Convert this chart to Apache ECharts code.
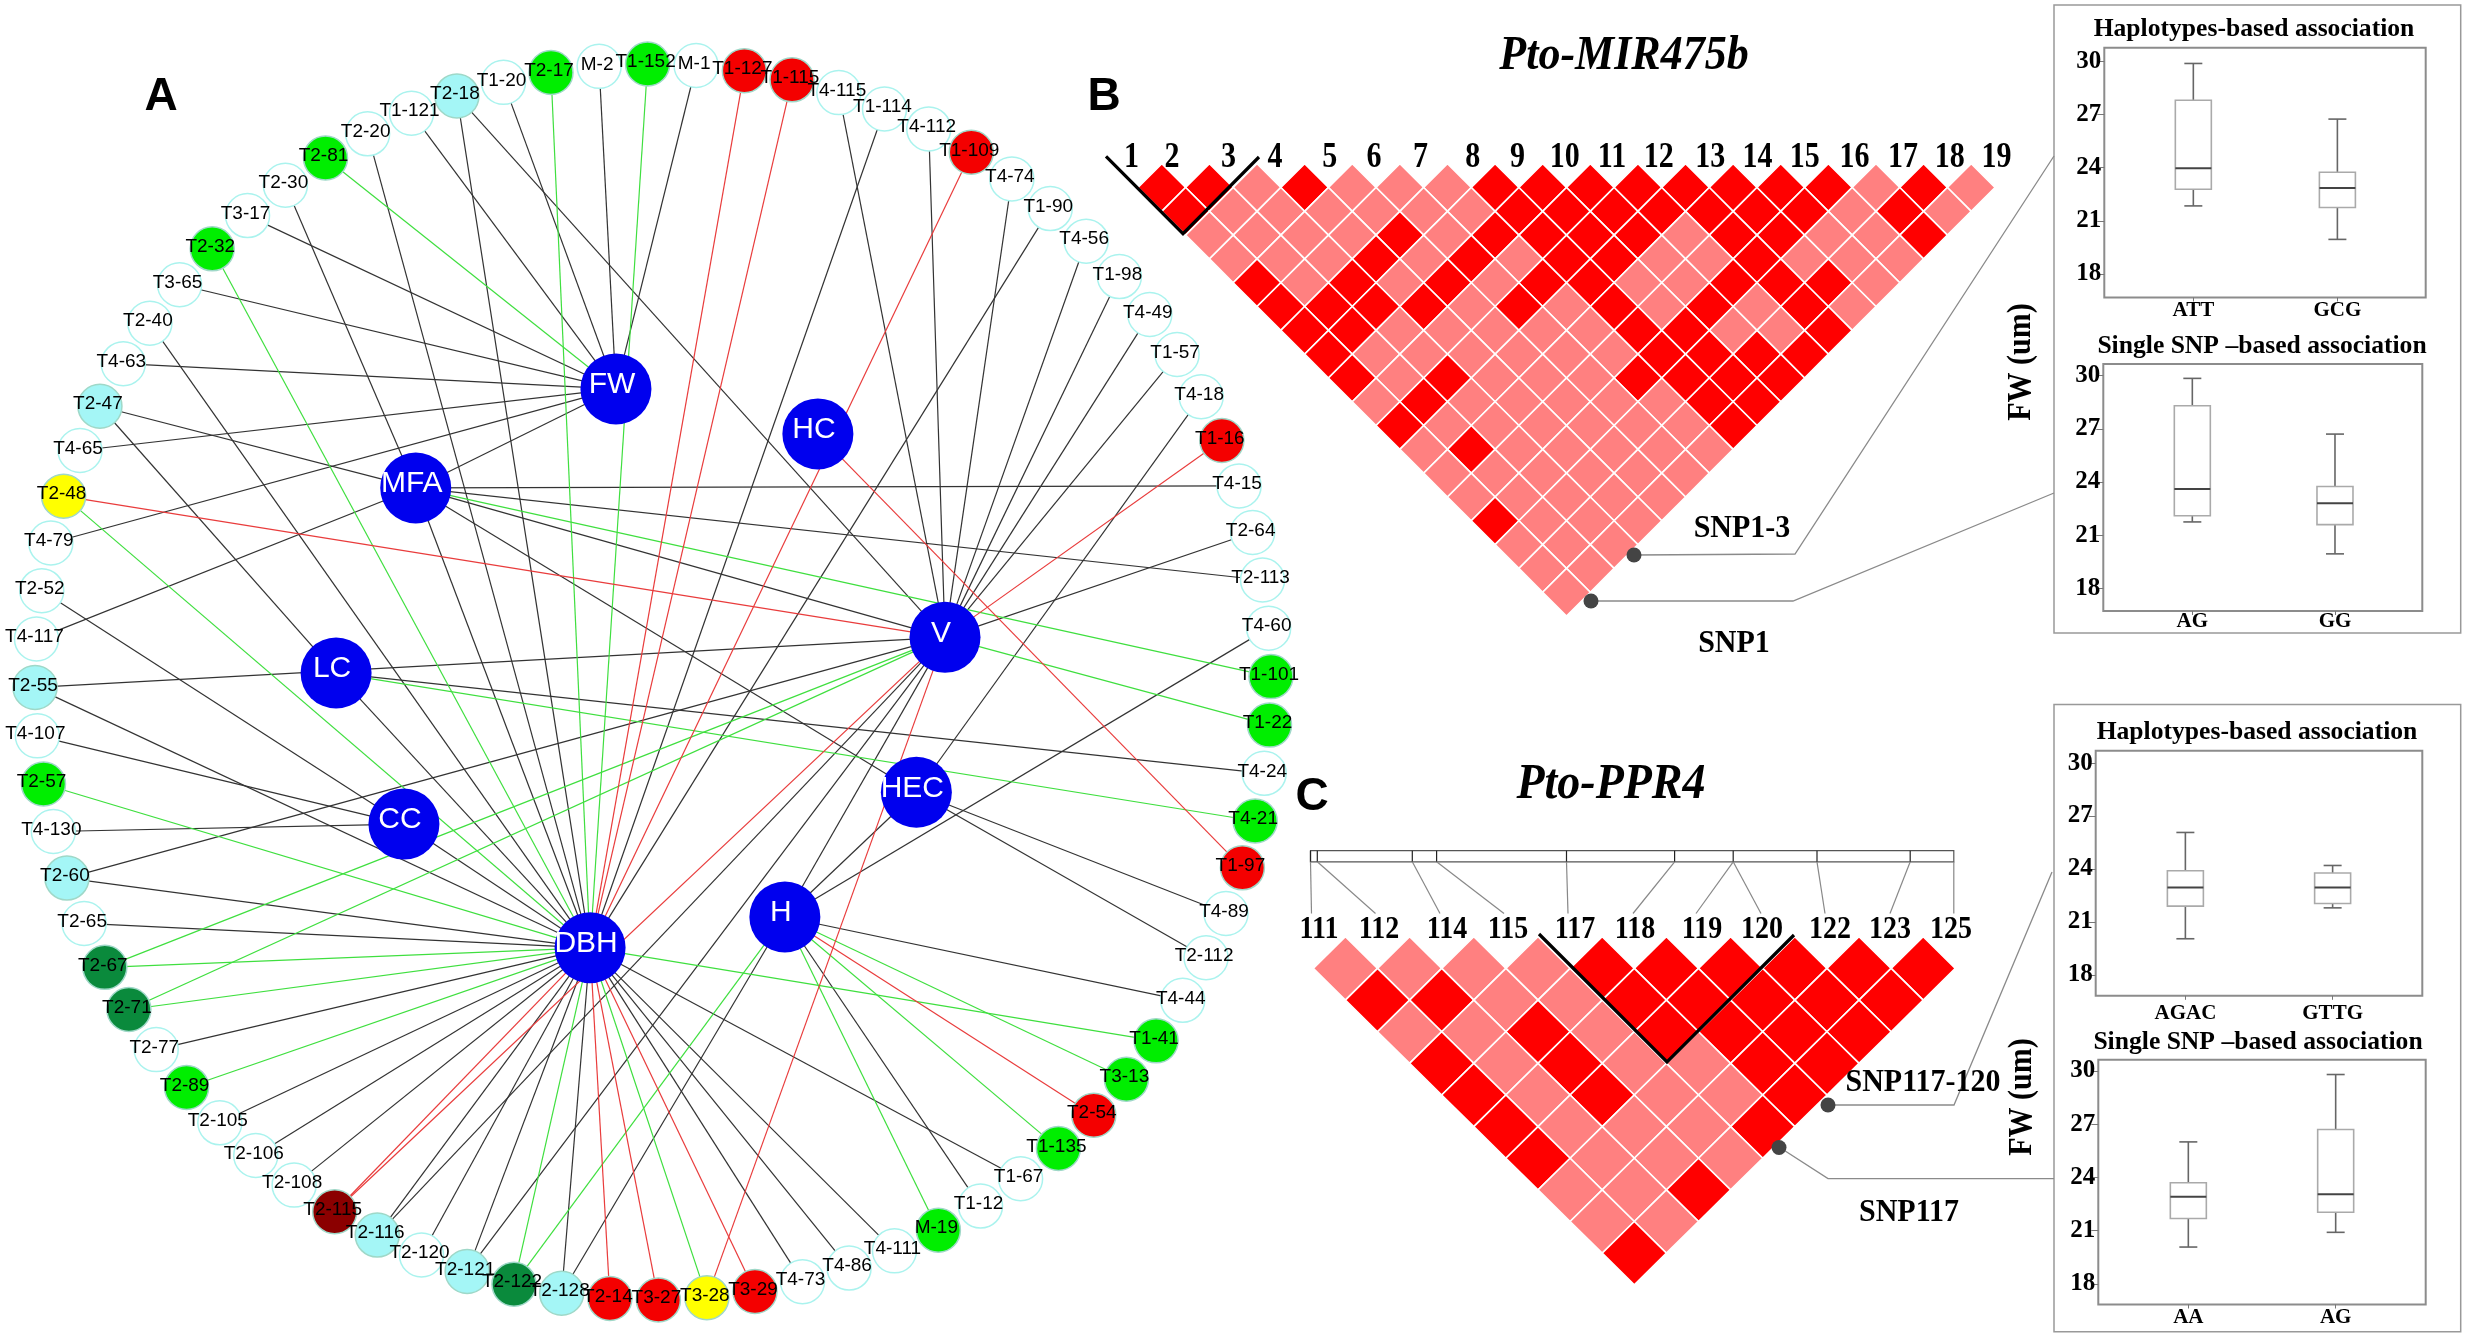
<!DOCTYPE html>
<html>
<head>
<meta charset="utf-8">
<style>html,body{margin:0;padding:0;background:#fff}#c{width:2467px;height:1337px}</style>
<script src="https://cdn.jsdelivr.net/npm/echarts@6/dist/echarts.min.js"></script>
</head>
<body>
<div id="c"></div>
<script>
// ---------- network: ring nodes in clockwise order ----------
const ringNodes = ['M-2','T1-152','M-1','T1-127','T1-115','T4-115','T1-114','T4-112','T1-109','T4-74',
 'T1-90','T4-56','T1-98','T4-49','T1-57','T4-18','T1-16','T4-15','T2-64','T2-113',
 'T4-60','T1-101','T1-22','T4-24','T4-21','T1-97','T4-89','T2-112','T4-44','T1-41',
 'T3-13','T2-54','T1-135','T1-67','T1-12','M-19','T4-111','T4-86','T4-73','T3-29',
 'T3-28','T3-27','T2-14','T2-128','T2-122','T2-121','T2-120','T2-116','T2-115','T2-108',
 'T2-106','T2-105','T2-89','T2-77','T2-71','T2-67','T2-65','T2-60','T4-130','T2-57',
 'T4-107','T2-55','T4-117','T2-52','T4-79','T2-48','T4-65','T2-47','T4-63','T2-40',
 'T3-65','T2-32','T3-17','T2-30','T2-81','T2-20','T1-121','T2-18','T1-20','T2-17'];
const cyanNodes = ['T2-18','T2-47','T2-55','T2-60','T2-116','T2-121','T2-128'];
const greenNodes = ['T1-152','T1-101','T1-22','T4-21','T1-41','T3-13','T1-135','M-19','T2-89','T2-57','T2-32','T2-81','T2-17'];
const darkGreenNodes = ['T2-67','T2-71','T2-122'];
const redNodes = ['T1-127','T1-115','T1-109','T1-16','T1-97','T2-54','T3-29','T3-27','T2-14'];
const darkRedNodes = ['T2-115'];
const yellowNodes = ['T3-28','T2-48'];

const hubNames  = ['FW','MFA','LC','CC','DBH','HC','V','HEC','H'];
const hubRadius = [0.478,0.496,0.513,0.464,0.442,0.482,0.478,0.462,0.436];
const hubAngle  = [79.51,69.84,61.47,54.51,44.07,8.58,19.18,26.16,34.6];

const blackLinks = [['T4-79','FW'],['T2-52','CC'],['CC','DBH'],['T4-117','MFA'],['T2-55','V'],['T2-55','DBH'],
 ['T4-107','CC'],['T4-130','CC'],['T2-60','V'],['T2-60','DBH'],['T2-65','DBH'],['T2-77','DBH'],['T2-105','DBH'],
 ['T2-106','DBH'],['T2-108','DBH'],['T2-116','DBH'],['T2-116','V'],['T2-120','DBH'],['T2-121','DBH'],['T2-121','V'],
 ['T2-128','DBH'],['T2-128','H'],['T4-73','DBH'],['T4-86','DBH'],['T4-111','DBH'],['T1-12','H'],['T1-67','DBH'],
 ['T4-44','H'],['T2-112','HEC'],['T4-89','HEC'],['T4-24','LC'],['T4-60','H'],['T2-113','MFA'],['T2-64','V'],
 ['T4-15','MFA'],['T4-18','HEC'],['T1-57','V'],['T4-49','V'],['T1-98','V'],['T4-56','V'],['T4-74','V'],['T1-90','DBH'],
 ['T4-112','V'],['T1-114','DBH'],['T4-115','V'],['M-1','FW'],['M-2','FW'],['T1-20','FW'],['T2-18','DBH'],['T2-18','V'],
 ['T1-121','FW'],['T2-20','DBH'],['T2-30','MFA'],['T3-17','FW'],['T3-65','FW'],['T2-40','DBH'],['T4-63','FW'],
 ['T2-47','MFA'],['T2-47','LC'],['T4-65','FW'],['MFA','FW'],['MFA','DBH'],['MFA','V'],['MFA','HEC'],['LC','DBH'],
 ['HEC','H'],['H','V']];
const greenLinks = [['T2-48','DBH'],['T2-57','DBH'],['T2-67','DBH'],['T2-67','V'],['T2-71','DBH'],['T2-71','V'],
 ['T2-89','DBH'],['T2-122','DBH'],['T2-122','H'],['T3-28','DBH'],['M-19','H'],['T1-135','H'],['T3-13','H'],
 ['T1-41','DBH'],['T4-21','LC'],['T1-22','V'],['T1-101','MFA'],['T1-152','DBH'],['T2-17','DBH'],['T2-81','FW'],
 ['T2-32','DBH']];
const redLinks = [['T2-48','V'],['T2-115','DBH'],['T2-115','V'],['T2-14','DBH'],['T3-27','DBH'],['T3-28','V'],
 ['T3-29','DBH'],['T2-54','H'],['T1-97','HC'],['T1-16','V'],['T1-109','DBH'],['T1-115','DBH'],['T1-127','DBH']];

// ---------- LD matrices (1 = strong, 0 = weak), one string per row ----------
const ldSnp475 = ['110100011111111010','10000001111111010','0000101111011001','000101011001000','10101011001110',
 '1111010101010','110000011001','10000001111','1010001111','010000011','10000001','0100000','000000','00000','1000','000','00','0'];
const ldPpr4 = ['0000111111','110011111','00101111','1010011','101001','10001','1000','001','00','1'];
const snpLabels475 = ['1','2','3','4','5','6','7','8','9','10','11','12','13','14','15','16','17','18','19'];
const snpLabelsPpr = ['111','112','114','115','117','118','119','120','122','123','125'];

// ---------- box statistics: low, Q1, median, Q3, high ----------
const ticksFW = [18,21,24,27,30];
const catsB1 = ['ATT','GCG'];
const statsB1 = [[21.84,22.78,23.97,27.8,29.88],[19.95,21.75,22.85,23.74,26.74]];
const catsB2 = ['AG','GG'];
const statsB2 = [[21.75,22.1,23.6,28.3,29.84],[19.95,21.6,22.8,23.75,26.7]];
const catsC1 = ['AGAC','GTTG'];
const statsC1 = [[20.05,21.9,22.96,23.9,26.07],[21.8,22.05,22.96,23.77,24.2]];
const catsC2 = ['AA','AG'];
const statsC2 = [[20.07,21.68,22.9,23.7,26.0],[20.9,22.03,23.05,26.7,29.8]];

// ---------- styles ----------
const SANS = '"Liberation Sans", Arial, sans-serif';
const SERIF = '"Liberation Serif", "Times New Roman", serif';
const colorOf = n => cyanNodes.includes(n) ? '#a4f6f6' : greenNodes.includes(n) ? '#00ee00' :
  darkGreenNodes.includes(n) ? '#0a8a3c' : redNodes.includes(n) ? '#f40000' :
  darkRedNodes.includes(n) ? '#8b0000' : yellowNodes.includes(n) ? '#ffff00' : '#ffffff';

const nodes = ringNodes.map((n,i)=>({name:n,value:[1,i],symbolSize:44,
  itemStyle:{color:colorOf(n),borderColor:colorOf(n)==='#ffffff'?'#aaf3ee':'#9fd8c8',borderWidth:1.5},
  label:{show:true,position:'inside',offset:[-2,-2],formatter:'{b}',color:'#000',fontFamily:SANS,fontSize:19}}))
 .concat(hubNames.map((n,i)=>({name:n,value:[hubRadius[i],hubAngle[i]],symbolSize:71,
  itemStyle:{color:'#0000ee'},
  label:{show:true,position:'inside',offset:[-4,-4],formatter:'{b}',color:'#fff',fontFamily:SANS,fontSize:30}})));
const mkLinks = (arr,col)=>arr.map(l=>({source:l[0],target:l[1],lineStyle:{color:col,width:1.2,opacity:1,curveness:0}}));
const links = mkLinks(blackLinks,'#333333').concat(mkLinks(greenLinks,'#3fdf3f'),mkLinks(redLinks,'#e93c3c'));

const cellData = rows => { const out=[]; rows.forEach((s,r)=>{ for(let c=0;c<s.length;c++) out.push([c+r/2,r,+s[c]]);}); return out; };
const diamond = (params,api)=>{
  const x=api.value(0), y=api.value(1);
  const pts=[[x,y-1],[x+0.5,y],[x,y+1],[x-0.5,y]].map(p=>api.coord(p));
  return {type:'polygon',shape:{points:pts},style:{fill:api.value(2)?'#ff0000':'#ff8080',stroke:'#fff',lineWidth:1.6}};
};
const boxItem = (params,api)=>{
  const x=api.value(0);
  const P=d=>api.coord([x,api.value(d)]);
  const lo=P(1),q1=P(2),me=P(3),q3=P(4),hi=P(5);
  const cx=lo[0], hb=18, hc=9;
  const line=(a,b,c,d,col,w)=>({type:'line',shape:{x1:a,y1:b,x2:c,y2:d},style:{stroke:col,lineWidth:w}});
  return {type:'group',children:[
    line(cx,hi[1],cx,q3[1],'#666',1.6),line(cx,lo[1],cx,q1[1],'#666',1.6),
    line(cx-hc,hi[1],cx+hc,hi[1],'#666',1.6),line(cx-hc,lo[1],cx+hc,lo[1],'#666',1.6),
    {type:'rect',shape:{x:cx-hb,y:q3[1],width:2*hb,height:q1[1]-q3[1]},style:{fill:'#fff',stroke:'#aaa',lineWidth:1.6}},
    line(cx-hb,me[1],cx+hb,me[1],'#444',2)
  ]};
};

const heatGrids = [
 {left:1138,top:163.7,width:857,height:452.3},
 {left:1313.3,top:936.8,width:642,height:348}];
const heatX = [[-0.5,17.5],[-0.5,9.5]], heatY=[[-1,18],[-1,10]];
const boxPanels = [
 {l:2104.3,r:2425.7,t:47.7,b:297.5,xr:[0.382,2.613],yr:[16.67,30.77],cats:catsB1,st:statsB1,m:3},
 {l:2103.3,r:2422.3,t:364,b:611,xr:[0.376,2.612],yr:[16.73,30.65],cats:catsB2,st:statsB2,m:0},
 {l:2095.7,r:2422.3,t:750.7,b:995.8,xr:[0.391,2.609],yr:[16.82,30.70],cats:catsC1,st:statsC1,m:7},
 {l:2098.3,r:2425.7,t:1059.8,b:1304.5,xr:[0.389,2.611],yr:[16.83,30.63],cats:catsC2,st:statsC2,m:3}];

const grid=[], xAxis=[], yAxis=[], series=[];
heatGrids.forEach((g,i)=>{
  grid.push(Object.assign({show:false},g));
  xAxis.push({type:'value',gridIndex:i,min:heatX[i][0],max:heatX[i][1],show:false});
  yAxis.push({type:'value',gridIndex:i,min:heatY[i][0],max:heatY[i][1],inverse:true,show:false});
  series.push({type:'custom',xAxisIndex:i,yAxisIndex:i,silent:true,clip:false,animation:false,
    data:cellData(i===0?ldSnp475:ldPpr4),encode:{x:0,y:1},renderItem:diamond});
});
boxPanels.forEach((p,k)=>{
  const i=k+2;
  grid.push({show:true,borderColor:'#8c8c8c',borderWidth:2,backgroundColor:'#fff',left:p.l,top:p.t,width:p.r-p.l,height:p.b-p.t});
  xAxis.push({type:'value',gridIndex:i,min:p.xr[0],max:p.xr[1],splitLine:{show:false},axisLine:{show:false},
    axisTick:{show:true,length:4,lineStyle:{color:'#777'},customValues:[1,2]},
    axisLabel:{customValues:[1,2],margin:p.m,color:'#000',fontFamily:SERIF,fontWeight:'bold',fontSize:21,formatter:v=>p.cats[Math.round(v)-1]}});
  yAxis.push({type:'value',gridIndex:i,min:p.yr[0],max:p.yr[1],splitLine:{show:false},axisLine:{show:false},
    axisTick:{show:true,length:7,lineStyle:{color:'#777'},customValues:ticksFW},
    axisLabel:{customValues:ticksFW,margin:3,color:'#000',fontFamily:SERIF,fontWeight:'bold',fontSize:25}});
  series.push({type:'custom',xAxisIndex:i,yAxisIndex:i,silent:true,animation:false,
    data:p.st.map((s,j)=>[j+1].concat(s)),encode:{x:0,y:[1,2,3,4,5]},renderItem:boxItem});
});
series.unshift({type:'graph',coordinateSystem:'polar',polarIndex:0,layout:'none',silent:true,animation:false,
  data:nodes,links:links,edgeSymbol:['none','none'],z:2});

// ---------- annotation layer ----------
const T=(text,x,y,font,extra)=>Object.assign({type:'text',x:x,y:y,silent:true,z:20,
  style:{text:text,font:font,fill:'#000',align:'center',verticalAlign:'middle',textAlign:'center',textVerticalAlign:'middle'}},extra||{});
const PL=(pts,col,w)=>({type:'polyline',silent:true,z:15,shape:{points:pts},style:{stroke:col,lineWidth:w,fill:'none'}});
const DOT=(x,y)=>({type:'circle',silent:true,z:16,shape:{cx:x,cy:y,r:7.5},style:{fill:'#444'}});
const LINE=(a,b,c,d,col,w)=>PL([[a,b],[c,d]],col,w);
const boldSerif=s=>'bold '+s+'px '+SERIF;
const g=[];
const snpX475=[1131.5,1172,1228.5,1275,1329.7,1374,1420.6,1472.7,1517.6,1564.8,1612,1658.8,1710.3,1757.6,1804.8,1854.5,1903,1949.7,1996.4];
snpLabels475.forEach((s,i)=>g.push(T(s,snpX475[i],158,boldSerif(30),{scaleY:1.18})));
const snpXPpr=[1319,1379,1447,1508,1575,1635,1702,1762,1830,1890,1951];
snpLabelsPpr.forEach((s,i)=>g.push(T(s,snpXPpr[i],930,boldSerif(28),{scaleY:1.1})));
g.push(T('A',161,97,'bold 46px '+SANS),T('B',1104,97,'bold 46px '+SANS),T('C',1312,797,'bold 46px '+SANS));
g.push(T('Pto-MIR475b',1624,57,'italic bold 44px '+SERIF,{scaleY:1.1}),T('Pto-PPR4',1611,785,'italic bold 46px '+SERIF,{scaleY:1.1}));
g.push(T('SNP1-3',1742,529,boldSerif(30),{scaleY:1.08}),T('SNP1',1734,644,boldSerif(30),{scaleY:1.08}),
       T('SNP117-120',1923,1083,boldSerif(30),{scaleY:1.08}),T('SNP117',1909,1213,boldSerif(30),{scaleY:1.08}));
g.push(T('FW (um)',2021,362,boldSerif(30),{rotation:Math.PI/2,scaleY:1.15}),T('FW (um)',2022,1097,boldSerif(30),{rotation:Math.PI/2,scaleY:1.15}));
g.push(T('Haplotypes-based association',2254,29,boldSerif(25.6)),T('Single SNP \u2013based association',2262,346,boldSerif(25.6)),
       T('Haplotypes-based association',2257,732,boldSerif(25.6)),T('Single SNP \u2013based association',2258,1042,boldSerif(25.6)));
g.push({type:'rect',silent:true,z:1,shape:{x:2054,y:5,width:406.7,height:628},style:{fill:'none',stroke:'#999',lineWidth:1.5}});
g.push({type:'rect',silent:true,z:1,shape:{x:2054,y:704.5,width:406.7,height:627.2},style:{fill:'none',stroke:'#999',lineWidth:1.5}});
g.push(PL([[1106,156.4],[1183,233.7],[1259,157]],'#000',3.2),PL([[1539,934],[1667,1062],[1794,935]],'#000',3.2));
g.push(PL([[1634,555],[1795,554],[2054,156]],'#8a8a8a',1.3),PL([[1591,601],[1793,601],[2054,493]],'#8a8a8a',1.3));
g.push(PL([[1828,1105],[1954,1105],[2052,872]],'#8a8a8a',1.3),PL([[1779,1147],[1828,1178.6],[2054,1178.6]],'#8a8a8a',1.3));
g.push(DOT(1634,555),DOT(1591,601),DOT(1828,1105),DOT(1779,1147.5));
// gene-model bar above panel C
g.push({type:'rect',silent:true,z:15,shape:{x:1310.5,y:850.7,width:643.3,height:11.1},style:{fill:'none',stroke:'#555',lineWidth:1.2}});
const barX=[1310.5,1317.3,1412.3,1436.6,1566.5,1674.6,1733.2,1817,1910.2];
barX.forEach(x=>g.push(LINE(x,850.7,x,861.8,'#222',1.2)));
[[1310.5,1311.5],[1317.3,1375.5],[1412.3,1440],[1436.6,1504],[1566.5,1568],[1674.6,1633],[1733.2,1696],[1733.2,1761],[1817,1825],[1910.2,1890],[1953.8,1953.8]]
 .forEach(p=>g.push(LINE(p[0],861.8,p[1],913.5,'#888',1.2)));

const chart=echarts.init(document.getElementById('c'),null,{renderer:'canvas',width:2467,height:1337});
chart.setOption({
  animation:false,backgroundColor:'#fff',
  polar:{center:[653,682],radius:618},
  angleAxis:{type:'value',polarIndex:0,min:0,max:80,startAngle:95,clockwise:true,show:false},
  radiusAxis:{type:'value',polarIndex:0,min:0,max:1,show:false},
  grid:grid,xAxis:xAxis,yAxis:yAxis,series:series,graphic:{elements:g}
});
</script>
</body>
</html>
